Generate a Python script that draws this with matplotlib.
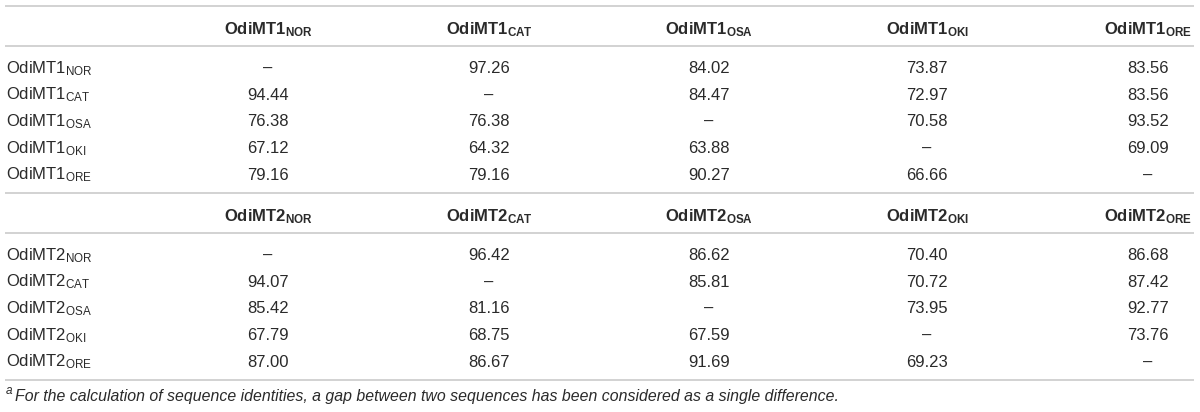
import matplotlib
matplotlib.use('Agg')
import matplotlib.pyplot as plt

plt.rcParams['font.family'] = 'Liberation Sans'
plt.rcParams['mathtext.fontset'] = 'custom'
plt.rcParams['mathtext.rm'] = 'Liberation Sans'
plt.rcParams['mathtext.bf'] = 'Liberation Sans:bold'
plt.rcParams['mathtext.it'] = 'Liberation Sans:italic'

strains = ['NOR', 'CAT', 'OSA', 'OKI', 'ORE']
genes = ['OdiMT1', 'OdiMT2']

# pairwise sequence identities (%), None on the diagonal
mt1_identity = [
    [None, 97.26, 84.02, 73.87, 83.56],
    [94.44, None, 84.47, 72.97, 83.56],
    [76.38, 76.38, None, 70.58, 93.52],
    [67.12, 64.32, 63.88, None, 69.09],
    [79.16, 79.16, 90.27, 66.66, None],
]
mt2_identity = [
    [None, 96.42, 86.62, 70.40, 86.68],
    [94.07, None, 85.81, 70.72, 87.42],
    [85.42, 81.16, None, 73.95, 92.77],
    [67.79, 68.75, 67.59, None, 73.76],
    [87.00, 86.67, 91.69, 69.23, None],
]
footnote = ('For the calculation of sequence identities, a gap between two '
            'sequences has been considered as a single difference.')

W, H = 1200, 412
fig = plt.figure(figsize=(W / 100, H / 100), dpi=100)
ax = fig.add_axes([0, 0, 1, 1])
ax.set_xlim(0, W)
ax.set_ylim(H, 0)
ax.axis('off')

txt_col = '#2a2a2a'
line_col = '#cfcfcf'
fs = 12
col_x = [268, 489, 709, 927, 1148]


def hline(y):
    ax.plot([5, 1194], [y, y], color=line_col, lw=1.3, solid_capstyle='butt')


def draw_block(gene, table, y0):
    hline(y0)
    for x, s in zip(col_x, strains):
        ax.text(x, y0 + 28.5, r'$\mathbf{%s}_{\mathbf{%s}}$' % (gene, s),
                ha='center', va='baseline', fontsize=fs, color=txt_col)
    hline(y0 + 40)
    for i, s in enumerate(strains):
        yb = y0 + 67 + 26.67 * i
        ax.text(6, yb, r'$\mathrm{%s}_{\mathrm{%s}}$' % (gene, s),
                ha='left', va='baseline', fontsize=fs, color=txt_col)
        for x, v in zip(col_x, table[i]):
            lab = '\u2013' if v is None else '{:.2f}'.format(v)
            ax.text(x, yb, lab, ha='center', va='baseline',
                    fontsize=fs, color=txt_col)


draw_block(genes[0], mt1_identity, 6)
draw_block(genes[1], mt2_identity, 193)
hline(380)

ax.text(6, 394, 'a', ha='left', va='baseline', fontsize=8.5, color=txt_col,
        style='italic')
ax.text(15, 401, footnote, ha='left', va='baseline', fontsize=11.45,
        color=txt_col, style='italic')

fig.savefig('out.png', dpi=100, facecolor='white')
